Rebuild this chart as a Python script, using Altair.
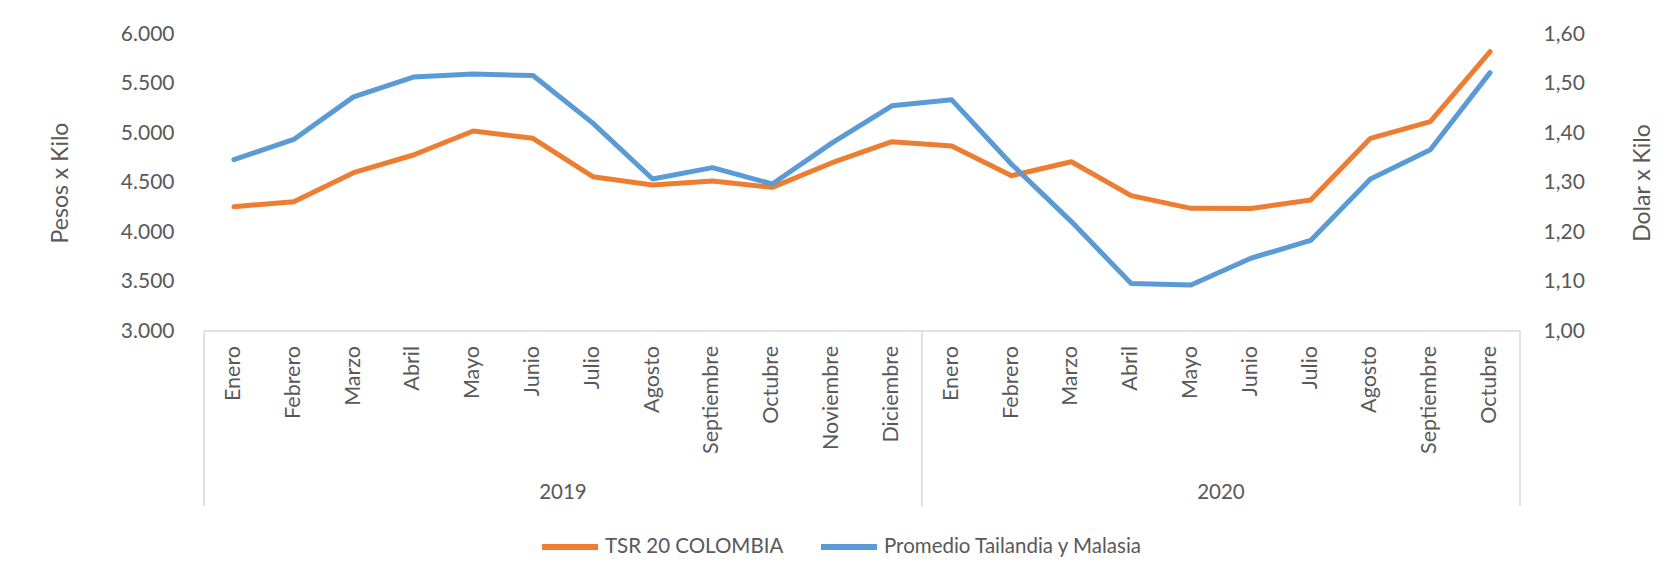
import altair as alt
import pandas as pd

# ---------------- data ----------------
years = ["2019", "2020"]
months_2019 = ["Enero", "Febrero", "Marzo", "Abril", "Mayo", "Junio", "Julio",
               "Agosto", "Septiembre", "Octubre", "Noviembre", "Diciembre"]
months_2020 = ["Enero", "Febrero", "Marzo", "Abril", "Mayo", "Junio", "Julio",
               "Agosto", "Septiembre", "Octubre"]

# TSR 20 COLOMBIA (Pesos x Kilo, left axis)
tsr_2019 = [4256, 4306, 4599, 4778, 5020, 4946, 4559, 4475, 4515, 4451, 4700, 4912]
tsr_2020 = [4869, 4569, 4710, 4367, 4239, 4237, 4323, 4946, 5114, 5821]

# Promedio Tailandia y Malasia (Dolar x Kilo, right axis)
prom_2019 = [1.346, 1.387, 1.473, 1.513, 1.519, 1.516, 1.420, 1.307, 1.330, 1.297, 1.380, 1.455]
prom_2020 = [1.467, 1.337, 1.221, 1.096, 1.093, 1.147, 1.183, 1.307, 1.366, 1.522]

series_names = ["TSR 20 COLOMBIA", "Promedio Tailandia y Malasia"]
series_colors = ["#ED7D31", "#5B9BD5"]

left_ticks = [3000, 3500, 4000, 4500, 5000, 5500, 6000]
right_ticks = [1.0, 1.1, 1.2, 1.3, 1.4, 1.5, 1.6]

# ---------------- tables ----------------
groups = [months_2019, months_2020]
months = months_2019 + months_2020
idx = list(range(len(months)))

long = pd.DataFrame({
    "idx": idx * 2,
    "serie": [series_names[0]] * len(idx) + [series_names[1]] * len(idx),
    "valor": tsr_2019 + tsr_2020 + prom_2019 + prom_2020,
})
df_months = pd.DataFrame({"idx": idx, "mes": months})

bounds, centers, start = [-0.5], [], 0
for g in groups:
    centers.append(start + (len(g) - 1) / 2)
    start += len(g)
    bounds.append(start - 0.5)
df_bounds = pd.DataFrame({"b": bounds})
df_years = pd.DataFrame({"c": centers, "anio": years})
df_domain = pd.DataFrame({"x0": [bounds[0]], "x1": [bounds[-1]]})

# ---------------- style ----------------
W, H = 1316, 297
FONT = "Lato"
FS = 21
FS_MONTH = 21.5
FS_SMALL = 20.5
GRAY = "#595959"
LINEGRAY = "#d9d9d9"

xscale = alt.Scale(domain=[bounds[0], bounds[-1]], nice=False, zero=False)

color = alt.Color(
    "serie:N",
    scale=alt.Scale(domain=series_names, range=series_colors),
    legend=alt.Legend(
        title=None, orient="none", legendX=335, legendY=482,
        direction="horizontal", symbolType="stroke", symbolStrokeWidth=6,
        symbolSize=3136, labelFont=FONT, labelFontSize=FS_SMALL, labelColor=GRAY,
        labelLimit=600, columnPadding=25, labelOffset=4,
    ),
)

tsr_line = alt.Chart(long).transform_filter(
    alt.datum.serie == series_names[0]
).mark_line(strokeWidth=5, strokeCap="round", strokeJoin="round").encode(
    x=alt.X("idx:Q", scale=xscale, axis=None),
    y=alt.Y("valor:Q",
            scale=alt.Scale(domain=[left_ticks[0], left_ticks[-1]], nice=False, zero=False),
            axis=alt.Axis(orient="left", values=left_ticks,
                          labelExpr="replace(format(datum.value, ',.0f'), ',', '.')",
                          title="Pesos x Kilo", titleAngle=270, titleX=-144, titleY=H / 2,
                          titleAlign="center", titleBaseline="middle",
                          titleFont=FONT, titleFontSize=23, titleFontWeight="normal",
                          titleColor=GRAY, labelFont=FONT, labelFontSize=FS,
                          labelColor=GRAY, labelPadding=30, ticks=False, tickSize=0,
                          domain=False, grid=False)),
    color=color,
)

prom_line = alt.Chart(long).transform_filter(
    alt.datum.serie == series_names[1]
).mark_line(strokeWidth=5, strokeCap="round", strokeJoin="round").encode(
    x=alt.X("idx:Q", scale=xscale, axis=None),
    y=alt.Y("valor:Q",
            scale=alt.Scale(domain=[right_ticks[0], right_ticks[-1]], nice=False, zero=False),
            axis=alt.Axis(orient="right", values=right_ticks,
                          labelExpr="replace(format(datum.value, '.2f'), '.', ',')",
                          title="Dolar x Kilo", titleAngle=270, titleX=122, titleY=H / 2,
                          titleAlign="center", titleBaseline="middle",
                          titleFont=FONT, titleFontSize=23, titleFontWeight="normal",
                          titleColor=GRAY, labelFont=FONT, labelFontSize=FS,
                          labelColor=GRAY, labelPadding=23, ticks=False, tickSize=0,
                          domain=False, grid=False)),
    color=color,
)

domain_line = alt.Chart(df_domain).mark_rule(color=LINEGRAY, strokeWidth=1.5).encode(
    x=alt.X("x0:Q", scale=xscale, axis=None),
    x2="x1:Q",
    y=alt.value(H),
)

separators = alt.Chart(df_bounds).mark_rule(color=LINEGRAY, strokeWidth=1.5).encode(
    x=alt.X("b:Q", scale=xscale, axis=None),
    y=alt.value(H),
    y2=alt.value(H + 175),
)

month_labels = alt.Chart(df_months).mark_text(
    font=FONT, fontSize=FS_MONTH, color=GRAY, angle=270, align="right", baseline="middle"
).encode(
    x=alt.X("idx:Q", scale=xscale, axis=None),
    y=alt.value(H + 15),
    text="mes:N",
)

year_labels = alt.Chart(df_years).mark_text(
    font=FONT, fontSize=FS_SMALL, color=GRAY, baseline="middle", align="center"
).encode(
    x=alt.X("c:Q", scale=xscale, axis=None),
    y=alt.value(H + 162),
    text="anio:N",
)

chart = alt.layer(
    domain_line, separators, month_labels, year_labels, tsr_line, prom_line
).resolve_scale(
    y="independent"
).properties(
    width=W, height=H,
    autosize=alt.AutoSizeParams(type="none"),
    padding={"left": 196, "top": 26, "right": 138, "bottom": 238},
    background="white",
).configure_view(stroke=None)

chart.save("out.html", embed_options={"renderer": "svg", "actions": False})
